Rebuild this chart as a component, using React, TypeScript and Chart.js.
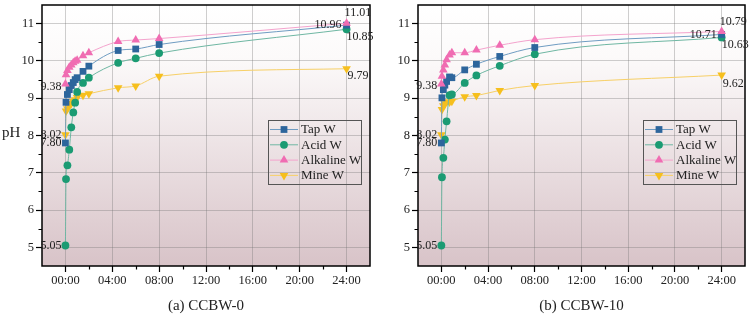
import React, { useEffect, useRef } from "react";
import { Chart, registerables } from "chart.js";

Chart.register(...registerables);

// ---------- data ----------
const seriesNames = ["Tap W", "Acid W", "Alkaline W", "Mine W"];

const timesA = [0, 0.05, 0.17, 0.33, 0.5, 0.67, 0.83, 1, 1.5, 2, 4.5, 6, 8, 24];
const tapA = [7.8, 8.89, 9.1, 9.23, 9.34, 9.42, 9.5, 9.55, 9.72, 9.86, 10.28, 10.32, 10.44, 10.96];
const acidA = [5.05, 6.83, 7.2, 7.62, 8.22, 8.62, 8.88, 9.17, 9.41, 9.55, 9.95, 10.07, 10.21, 10.85];
const alkalineA = [9.38, 9.63, 9.74, 9.83, 9.89, 9.95, 9.99, 10.02, 10.14, 10.22, 10.52, 10.56, 10.6, 11.01];
const mineA = [8.02, 8.66, 8.72, 8.8, 8.86, 8.92, 8.96, 9.02, 9.08, 9.12, 9.28, 9.33, 9.59, 9.79];

const timesB = [0, 0.05, 0.17, 0.3, 0.45, 0.7, 0.9, 2, 3, 5, 8, 24];
const tapB = [7.8, 9.01, 9.23, 9.35, 9.45, 9.57, 9.55, 9.76, 9.91, 10.12, 10.36, 10.71];
const acidB = [5.05, 6.88, 7.4, 7.89, 8.38, 9.08, 9.1, 9.41, 9.61, 9.87, 10.18, 10.63];
const alkalineB = [9.38, 9.59, 9.76, 9.89, 10.03, 10.16, 10.22, 10.22, 10.29, 10.42, 10.57, 10.79];
const mineB = [8.02, 8.7, 8.8, 8.85, 8.9, 8.9, 8.92, 9.04, 9.07, 9.21, 9.34, 9.62];

const xTickHours = [0, 4, 8, 12, 16, 20, 24];
const xTickLabels = ["00:00", "04:00", "08:00", "12:00", "16:00", "20:00", "24:00"];
const xMinorHours = [2, 6, 10, 14, 18, 22];
const yTickValues = [5, 6, 7, 8, 9, 10, 11];
const yMinorValues = [5.5, 6.5, 7.5, 8.5, 9.5, 10.5];
const captions = ["(a) CCBW-0", "(b) CCBW-10"];
const yAxisTitle = "pH";

// ---------- styles ----------
const FONT = "'Liberation Serif', 'Times New Roman', serif";
const markerColors = ["#2d659c", "#1b9b73", "#f06cb2", "#f6bf1e"];
const lineColors = ["#6f9cc2", "#6fb7a3", "#f4a3cd", "#f7d067"];
const pointStyles = ["rect", "circle", "triangle", "triangle"];
const pointRotations = [0, 0, 0, 180];
const pointRadii = [4.8, 3.9, 5, 5];
const drawOrder = [2, 3, 1, 4];
const gridColor = "rgba(110,110,110,0.33)";

type LabelSpec = { s: number; i: number; align: CanvasTextAlign; dx: number; dy: number };

const labelsFirstLast = (last: number, yellowDy: number, pinkFirstDy: number): LabelSpec[] => [
  { s: 2, i: 0, align: "right", dx: -4, dy: pinkFirstDy },
  { s: 3, i: 0, align: "right", dx: -4, dy: 0 },
  { s: 0, i: 0, align: "right", dx: -4, dy: 0 },
  { s: 1, i: 0, align: "right", dx: -4, dy: 0 },
  { s: 2, i: last, align: "left", dx: -2, dy: -10 },
  { s: 0, i: last, align: "right", dx: -5, dy: 0 },
  { s: 1, i: last, align: "left", dx: 0, dy: 7.5 },
  { s: 3, i: last, align: "left", dx: 1, dy: yellowDy },
];

function drawMarker(ctx: CanvasRenderingContext2D, style: number, x: number, y: number) {
  const r = pointRadii[style];
  ctx.beginPath();
  if (style === 0) {
    const h = r * Math.SQRT1_2;
    ctx.rect(x - h, y - h, 2 * h, 2 * h);
  } else if (style === 1) {
    ctx.arc(x, y, r, 0, Math.PI * 2);
  } else {
    const rot = style === 3 ? Math.PI : 0;
    for (let k = 0; k < 3; k++) {
      const a = rot + (k * 2 * Math.PI) / 3;
      const px = x + Math.sin(a) * r;
      const py = y - Math.cos(a) * r;
      if (k === 0) ctx.moveTo(px, py);
      else ctx.lineTo(px, py);
    }
    ctx.closePath();
  }
  ctx.fillStyle = markerColors[style];
  ctx.fill();
}

function makeDecor(caption: string, showTitle: boolean, labels: LabelSpec[]) {
  return {
    id: "decor",
    beforeDraw(chart: any) {
      const { ctx, chartArea: a } = chart;
      const g = ctx.createLinearGradient(0, a.top, 0, a.bottom);
      g.addColorStop(0, "#ffffff");
      g.addColorStop(0.2, "#fcfafa");
      g.addColorStop(1, "#d8c3c8");
      ctx.save();
      ctx.fillStyle = g;
      ctx.fillRect(a.left, a.top, a.right - a.left, a.bottom - a.top);
      ctx.restore();
    },
    afterDraw(chart: any) {
      const { ctx, chartArea: a } = chart;
      const xs = chart.scales.x;
      const ys = chart.scales.y;
      ctx.save();
      // frame
      ctx.strokeStyle = "#000";
      ctx.lineWidth = 1.5;
      ctx.strokeRect(a.left, a.top, a.right - a.left, a.bottom - a.top);
      // minor ticks
      ctx.lineWidth = 1.2;
      ctx.beginPath();
      xMinorHours.forEach((h) => {
        const px = Math.round(xs.getPixelForValue(h)) + 0.5;
        ctx.moveTo(px, a.bottom);
        ctx.lineTo(px, a.bottom + 3.5);
      });
      yMinorValues.forEach((v) => {
        const py = Math.round(ys.getPixelForValue(v)) + 0.5;
        ctx.moveTo(a.left - 3.5, py);
        ctx.lineTo(a.left, py);
      });
      ctx.stroke();

      // data labels
      ctx.font = `12px ${FONT}`;
      ctx.fillStyle = "#222";
      ctx.textBaseline = "middle";
      labels.forEach((l) => {
        const meta = chart.getDatasetMeta(l.s);
        const el = meta.data[l.i];
        const val = chart.data.datasets[l.s].data[l.i].y;
        ctx.textAlign = l.align;
        ctx.fillText(val.toFixed(2), el.x + l.dx, el.y + l.dy);
      });

      // legend
      const bw = 93;
      const bh = 64;
      const bl = a.right - 102;
      const bt = 120;
      ctx.strokeStyle = "#555";
      ctx.lineWidth = 1;
      ctx.strokeRect(bl + 0.5, bt + 0.5, bw, bh);
      ctx.font = `13px ${FONT}`;
      ctx.textAlign = "left";
      ctx.textBaseline = "middle";
      seriesNames.forEach((name, i) => {
        const y = bt + 9.5 + i * 15.3;
        ctx.strokeStyle = lineColors[i];
        ctx.lineWidth = 1;
        ctx.beginPath();
        ctx.moveTo(bl + 2, y);
        ctx.lineTo(bl + 30, y);
        ctx.stroke();
        drawMarker(ctx, i, bl + 16, y);
        ctx.fillStyle = "#222";
        ctx.fillText(name, bl + 33, y + 0.5);
      });

      // caption
      ctx.font = `15px ${FONT}`;
      ctx.fillStyle = "#222";
      ctx.textAlign = "center";
      ctx.textBaseline = "middle";
      ctx.fillText(caption, (a.left + a.right) / 2, 306);

      // y title
      if (showTitle) {
        ctx.font = `15px ${FONT}`;
        ctx.textAlign = "left";
        ctx.fillText(yAxisTitle, 2, 133);
      }
      ctx.restore();
    },
  };
}

type Spec = {
  times: number[];
  series: number[][];
  caption: string;
  showTitle: boolean;
  yWidth: number;
  padRight: number;
  labels: LabelSpec[];
};

function makeConfig(spec: Spec): any {
  const tickFont = { family: FONT, size: 12.5 };
  return {
    type: "line",
    data: {
      datasets: spec.series.map((vals, i) => ({
        label: seriesNames[i],
        data: spec.times.map((t, j) => ({ x: t, y: vals[j] })),
        borderColor: lineColors[i],
        borderWidth: 1,
        backgroundColor: markerColors[i],
        pointBackgroundColor: markerColors[i],
        pointBorderColor: markerColors[i],
        pointBorderWidth: 0,
        pointStyle: pointStyles[i],
        pointRotation: pointRotations[i],
        pointRadius: pointRadii[i],
        cubicInterpolationMode: "monotone",
        fill: false,
        order: drawOrder[i],
      })),
    },
    options: {
      animation: false,
      responsive: false,
      maintainAspectRatio: false,
      events: [],
      layout: { padding: { left: 0, right: spec.padRight, top: 1, bottom: 0 } },
      plugins: { legend: { display: false }, tooltip: { enabled: false } },
      scales: {
        x: {
          type: "linear",
          min: -2,
          max: 26,
          afterBuildTicks: (s: any) => {
            s.ticks = xTickHours.map((v) => ({ value: v }));
          },
          afterFit: (s: any) => {
            s.height = 49;
            s.paddingLeft = 0;
            s.paddingRight = 0;
          },
          ticks: {
            callback: (v: number) => {
              const k = xTickHours.indexOf(v);
              return k >= 0 ? xTickLabels[k] : "";
            },
            font: tickFont,
            color: "#222",
            padding: 1,
            maxRotation: 0,
            autoSkip: false,
          },
          grid: { color: gridColor, lineWidth: 1, tickLength: 6, tickColor: "#000", tickWidth: 1.2 },
          border: { display: false },
        },
        y: {
          type: "linear",
          min: 4.5,
          max: 11.5,
          afterBuildTicks: (s: any) => {
            s.ticks = yTickValues.map((v) => ({ value: v }));
          },
          afterFit: (s: any) => {
            s.width = spec.yWidth;
            s.paddingTop = 0;
            s.paddingBottom = 0;
          },
          ticks: {
            callback: (v: number) => String(v),
            font: tickFont,
            color: "#222",
            padding: 2,
            autoSkip: false,
          },
          grid: { color: gridColor, lineWidth: 1, tickLength: 6, tickColor: "#000", tickWidth: 1.2 },
          border: { display: false },
        },
      },
    },
    plugins: [makeDecor(spec.caption, spec.showTitle, spec.labels)],
  };
}

function ChartPanel({ spec }: { spec: Spec }) {
  const ref = useRef<HTMLCanvasElement | null>(null);
  useEffect(() => {
    if (!ref.current) return;
    const chart = new Chart(ref.current, makeConfig(spec));
    return () => chart.destroy();
  }, [spec]);
  return <canvas ref={ref} width={375} height={315} style={{ width: 375, height: 315, display: "block" }} />;
}

const specA: Spec = {
  times: timesA,
  series: [tapA, acidA, alkalineA, mineA],
  caption: captions[0],
  showTitle: true,
  yWidth: 42,
  padRight: 4,
  labels: labelsFirstLast(timesA.length - 1, 7, 3),
};

const specB: Spec = {
  times: timesB,
  series: [tapB, acidB, alkalineB, mineB],
  caption: captions[1],
  showTitle: false,
  yWidth: 43,
  padRight: 1,
  labels: labelsFirstLast(timesB.length - 1, 9, 2),
};

export default function App() {
  return (
    <div
      style={{
        position: "absolute",
        left: 0,
        top: 0,
        width: 750,
        height: 315,
        display: "flex",
        background: "#ffffff",
        overflow: "hidden",
      }}
    >
      <ChartPanel spec={specA} />
      <ChartPanel spec={specB} />
    </div>
  );
}
